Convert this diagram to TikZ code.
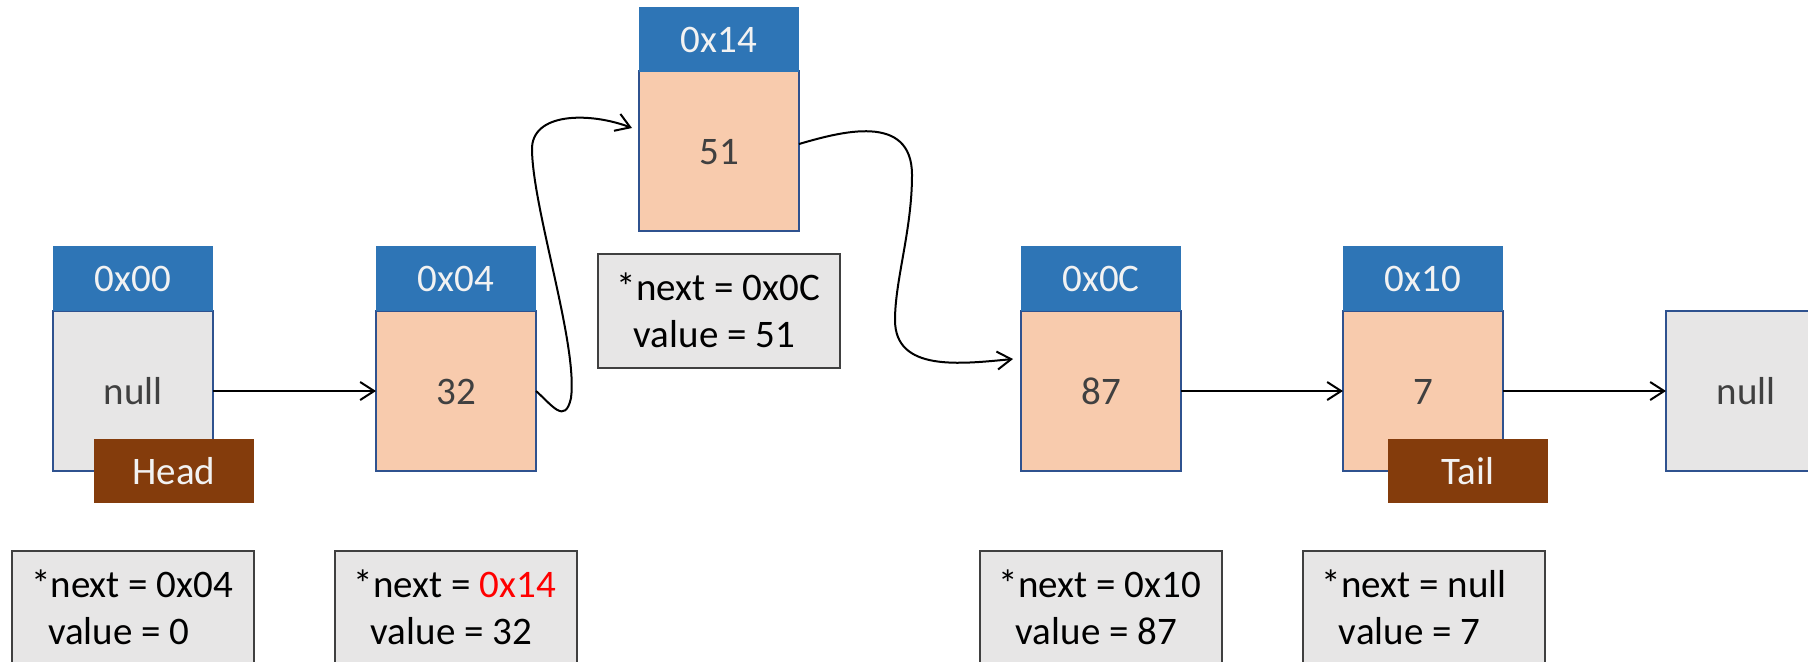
\documentclass[tikz,border=0pt]{standalone}
\usepackage{fontspec}
\setmainfont{Carlito}
\usetikzlibrary{arrows.meta,calc}

\definecolor{hdrblue}{HTML}{2E75B6}
\definecolor{peach}{HTML}{F8CBAD}
\definecolor{edgeblue}{HTML}{2F528F}
\definecolor{cellgray}{HTML}{E7E6E6}
\definecolor{darktext}{HTML}{404040}
\definecolor{ptrbrown}{HTML}{843C0C}
\definecolor{softwhite}{HTML}{F2F2F2}

\tikzset{
  hdr/.style={fill=hdrblue, text=softwhite, minimum width=80pt, minimum height=32.5pt,
    inner sep=0pt, outer sep=0pt, text height=13pt, text depth=0pt},
  cell/.style={draw=edgeblue, line width=1pt, fill=peach, text=darktext,
    minimum width=80pt, minimum height=80pt, inner sep=0pt, outer sep=0pt,
    text height=13pt, text depth=0pt},
  nullcell/.style={cell, fill=cellgray},
  tag/.style={fill=ptrbrown, text=softwhite, minimum width=80pt, minimum height=32pt,
    inner sep=0pt, outer sep=0pt, text height=13pt, text depth=0pt},
  info/.style={draw=darktext, line width=1pt, fill=cellgray,
    minimum width=121pt, minimum height=57pt, inner sep=0pt, outer sep=0pt},
  infoline/.style={anchor=base west, inner sep=0pt, text=black},
  arr/.style={draw=black, line width=1pt, -{Straight Barb[length=7pt,width=9pt]}}
}

\begin{document}
\begin{tikzpicture}[x=0.5pt, y=-0.5pt, font=\fontsize{19.5}{24}\selectfont]
  \useasboundingbox (0,0) rectangle (1808,661);
  \fill[white] (0,0) rectangle (1808,661);
  \clip (0,0) rectangle (1808,661);

  % list cells
  \node[nullcell] (b0) at (133,391) {null};
  \node[cell]     (b1) at (456,391) {32};
  \node[cell]     (b2) at (719,151) {51};
  \node[cell]     (b3) at (1101,391) {87};
  \node[cell]     (b4) at (1423,391) {7};
  \node[nullcell] (bn) at (1746,391) {null};

  % address headers
  \node[hdr] (h0) at (133,278.5) {0x00};
  \node[hdr] (h1) at (456,278.5) {0x04};
  \node[hdr] (h2) at (719,39) {0x14};
  \node[hdr] (h3) at (1101,278.5) {0x0C};
  \node[hdr] (h4) at (1423,278.5) {0x10};

  % head and tail markers
  \node[tag] (head) at (174,471) {Head};
  \node[tag] (tail) at (1468,471) {Tail};

  % field boxes
  \node[info] (i0) at (132.75,608) {};
  \node[info] (i1) at (455.5,608) {};
  \node[info] (i2) at (718.5,311) {};
  \node[info] (i3) at (1100.5,608) {};
  \node[info] (i4) at (1423.5,608) {};

  \node[infoline] (i0a) at ($(i0.north west)+(19,46)$) {*next = 0x04};
  \node[infoline] (i0b) at ($(i0.north west)+(36,93)$) {value = 0};
  \node[infoline] (i1a) at ($(i1.north west)+(19,46)$) {*next = \textcolor{red}{0x14}};
  \node[infoline] (i1b) at ($(i1.north west)+(36,93)$) {value = 32};
  \node[infoline] (i2a) at ($(i2.north west)+(19,46)$) {*next = 0x0C};
  \node[infoline] (i2b) at ($(i2.north west)+(36,93)$) {value = 51};
  \node[infoline] (i3a) at ($(i3.north west)+(19,46)$) {*next = 0x10};
  \node[infoline] (i3b) at ($(i3.north west)+(36,93)$) {value = 87};
  \node[infoline] (i4a) at ($(i4.north west)+(19,46)$) {*next = null};
  \node[infoline] (i4b) at ($(i4.north west)+(36,93)$) {value = 7};

  % arrow end points beside the raised cell and after it
  \coordinate (b2in)  at ($(b2.west)+(-7,-23)$);
  \coordinate (b2out) at ($(b2.east)+(0,-7)$);
  \coordinate (b3in)  at ($(b3.west)+(-8,-32)$);

  % links
  \draw[arr] (b0) -- (b1);
  \draw[arr] (b1.east) .. controls (552,405) and (565,425) .. (571,398)
                       .. controls (578,345) and (533,210) .. (532,150)
                       .. controls (531,112) and (590,112) .. (b2in);
  \draw[arr] (b2out) .. controls (840,132) and (912,112) .. (912,175)
                     .. controls (912,230) and (895,280) .. (895,320)
                     .. controls (895,372) and (960,364) .. (b3in);
  \draw[arr] (b3) -- (b4);
  \draw[arr] (b4) -- (bn);
\end{tikzpicture}
\end{document}
